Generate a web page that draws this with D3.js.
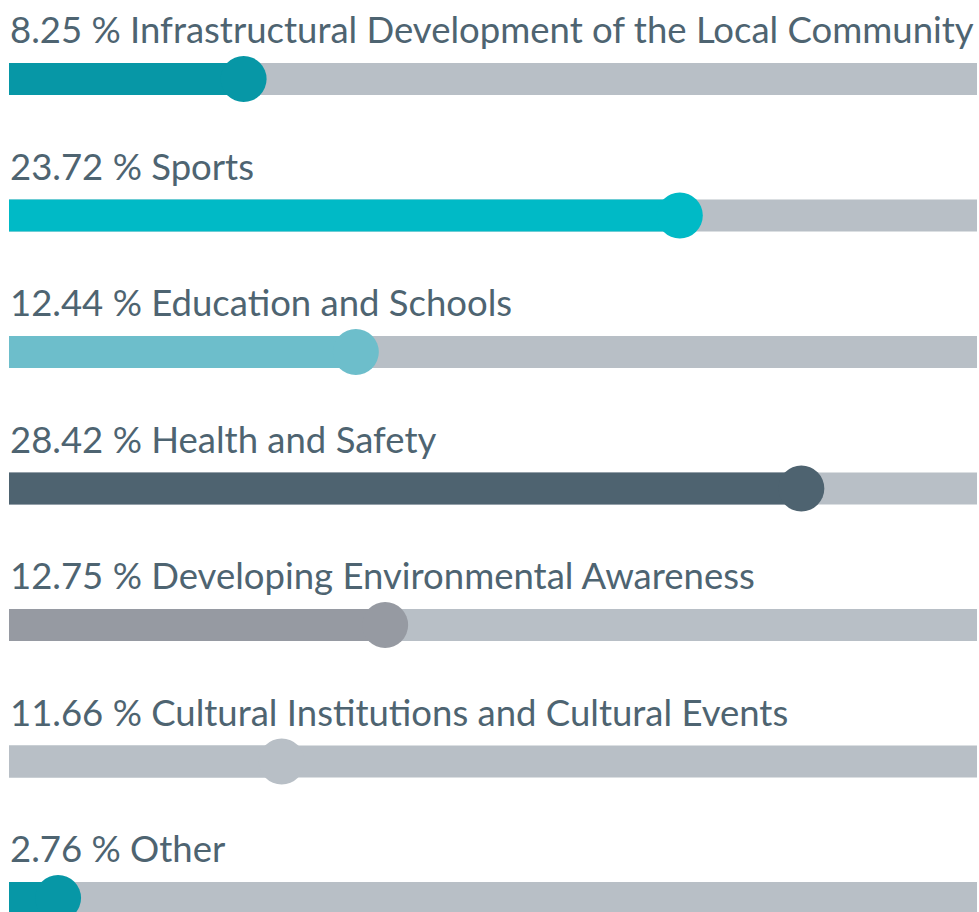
<!DOCTYPE html>
<html>
  <head>
    <script src="https://d3js.org/d3.v7.min.js"></script>
    <style>
      body { margin: 0; background: #ffffff; }
      .label { font-family: Lato, "Noto Sans", sans-serif; font-size: 36.5px; fill: #4e6471; }
    </style>
  </head>
  <body>
    <svg id="chart" width="979" height="912"></svg>
    <script>
      // categories and shares as printed in the labels
      const categories = [
        "Infrastructural Development of the Local Community",
        "Sports",
        "Education and Schools",
        "Health and Safety",
        "Developing Environmental Awareness",
        "Cultural Institutions and Cultural Events",
        "Other"
      ];
      const shares = [8.25, 23.72, 12.44, 28.42, 12.75, 11.66, 2.76];
      // where the marker sits on each track (same % units)
      const markerValues = [8.32, 23.79, 12.30, 28.10, 13.34, 9.67, 1.74];
      const colors = ["#0797a6", "#00bac6", "#6dbecb", "#4e6370", "#969aa2", "#b8bfc6", "#0797a6"];
      const trackColor = "#b8bfc6";

      let svg = d3.select("#chart");

      let xScale = d3.scaleLinear().domain([0, 34.33]).range([9, 977]);
      let yScale = d3.scalePoint().domain(categories).range([63, 882]);
      const barH = 32;
      const r = 23;

      let rows = svg.selectAll("g.row")
        .data(categories.map((c, i) => ({cat: c, share: shares[i], marker: markerValues[i], color: colors[i]})))
        .join("g")
        .attr("class", "row")
        .attr("transform", d => "translate(0," + yScale(d.cat) + ")");

      rows.append("rect")
        .attr("x", xScale(0))
        .attr("y", 0)
        .attr("width", xScale.range()[1] - xScale(0))
        .attr("height", barH)
        .attr("fill", trackColor);

      rows.append("rect")
        .attr("x", xScale(0))
        .attr("y", 0)
        .attr("width", d => xScale(d.marker) - xScale(0))
        .attr("height", barH)
        .attr("fill", d => d.color);

      rows.append("circle")
        .attr("cx", d => xScale(d.marker))
        .attr("cy", barH / 2)
        .attr("r", r)
        .attr("fill", d => d.color);

      rows.append("text")
        .attr("class", "label")
        .attr("x", 10)
        .attr("y", -20)
        .text(d => d3.format(".2f")(d.share) + " % " + d.cat);
    </script>
  </body>
</html>
